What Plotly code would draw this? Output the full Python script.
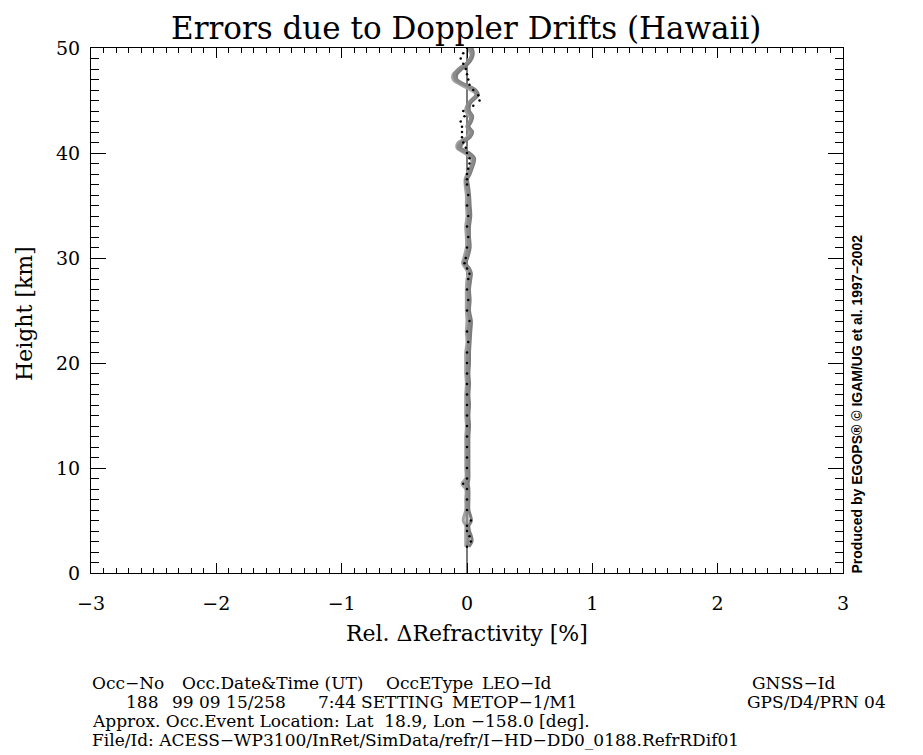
import plotly.graph_objects as go

# ---------------- data ----------------
H = [50.0, 49.5, 49.0, 48.5, 48.0, 47.5, 47.0, 46.5, 46.0, 45.5,
     45.0, 44.5, 44.0, 43.5, 43.0, 42.5, 42.0, 41.5, 41.0, 40.5,
     40.0, 39.5, 39.0, 38.5, 38.0, 37.5, 37.0, 36.0, 35.0, 34.0,
     33.0, 32.0, 31.0, 30.0, 29.5, 29.0, 28.5, 28.0, 27.0, 26.0,
     25.0, 24.0, 23.0, 22.0, 21.0, 20.0, 19.0, 18.0, 17.0, 16.0,
     15.0, 14.0, 13.0, 12.0, 11.0, 10.0, 9.0, 8.5, 8.0, 7.0,
     6.0, 5.0, 4.5, 4.0, 3.5, 3.0, 2.5]

G1 = [0.025, 0.04, 0.025, -0.01, -0.07, -0.10, -0.09, -0.02, 0.06, 0.07,
      0.03, 0.00, 0.01, 0.035, 0.02, 0.00, 0.035, 0.01, -0.05, -0.07,
      0.00, 0.05, 0.045, 0.03, 0.015, -0.01, -0.005, 0.01, 0.01, 0.015,
      0.005, 0.01, 0.01, -0.01, -0.025, 0.01, 0.025, 0.015, 0.01, 0.01,
      0.01, 0.02, 0.01, 0.015, 0.005, 0.005, 0.005, 0.005, 0.0, 0.005,
      0.0, 0.005, 0.0, 0.0, 0.0, 0.0, 0.0, -0.01, 0.0, 0.0,
      0.0, 0.0, 0.0, 0.005, 0.01, 0.01, 0.0]

G2 = [0.0, 0.03, 0.03, 0.0, -0.05, -0.11, -0.11, -0.05, 0.03, 0.08,
      0.05, 0.0, -0.01, 0.02, 0.03, 0.0, 0.02, 0.0, -0.07, -0.08,
      -0.02, 0.03, 0.04, 0.02, 0.0, -0.015, -0.015, -0.005, -0.005, 0.0,
      -0.01, -0.005, -0.005, -0.025, -0.035, -0.01, 0.01, 0.0, -0.005, -0.005,
      -0.005, 0.0, -0.005, 0.0, -0.01, -0.01, -0.01, -0.005, -0.01, -0.01,
      -0.01, -0.005, -0.01, -0.01, -0.01, -0.01, -0.01, -0.04, -0.01, -0.01,
      -0.01, -0.03, -0.01, -0.01, -0.01, -0.01, -0.01]

G3 = [0.04, 0.05, 0.04, 0.01, -0.04, -0.08, -0.08, -0.01, 0.07, 0.09,
      0.04, 0.02, 0.02, 0.045, 0.035, 0.015, 0.045, 0.025, -0.03, -0.05,
      0.02, 0.06, 0.055, 0.04, 0.025, 0.005, 0.01, 0.02, 0.025, 0.03,
      0.02, 0.02, 0.025, 0.005, -0.01, 0.02, 0.035, 0.03, 0.02, 0.025,
      0.02, 0.035, 0.03, 0.025, 0.02, 0.02, 0.015, 0.02, 0.015, 0.02,
      0.015, 0.02, 0.015, 0.015, 0.015, 0.015, 0.015, 0.01, 0.015, 0.015,
      0.015, 0.035, 0.015, 0.02, 0.035, 0.04, 0.015]

D = [0.0, -0.03, -0.05, -0.03, -0.01, 0.0, 0.01, 0.02, 0.05, 0.09,
     0.10, 0.05, -0.03, -0.02, -0.05, -0.04, -0.04, -0.04, -0.03, -0.01,
     0.0, 0.02, 0.02, 0.01, 0.0, 0.0, 0.0, 0.01, 0.0, 0.01,
     0.0, 0.01, 0.0, -0.01, -0.02, 0.0, 0.02, 0.01, 0.0, 0.01,
     0.0, 0.02, 0.0, 0.01, 0.0, 0.0, 0.0, 0.0, 0.0, 0.0,
     0.0, 0.0, 0.0, 0.0, 0.0, 0.0, 0.0, -0.03, 0.0, 0.0,
     0.0, 0.03, 0.0, 0.0, 0.02, 0.03, 0.0]

ZERO_X = [0.0, 0.0]
ZERO_H = [0.0, 50.0]

X_TICKS = [-3, -2, -1, 0, 1, 2, 3]
Y_TICKS = [0, 10, 20, 30, 40, 50]

TITLE = "Errors due to Doppler Drifts (Hawaii)"
XTITLE = "Rel. \u0394Refractivity [%]"
YTITLE = "Height [km]"
CREDIT = "Produced by EGOPS\u00ae \u00a9 IGAM/UG et al. 1997\u22122002"

FOOT1 = [("Occ\u2212No", 90), ("Occ.Date&Time (UT)", 180), ("OccEType", 384),
         ("LEO\u2212Id", 480), ("GNSS\u2212Id", 750)]
FOOT2 = [("188", 124), ("99 09 15/258", 170), ("7:44", 316), ("SETTING", 359),
         ("METOP\u22121/M1", 450), ("GPS/D4/PRN 04", 745)]
FOOT3 = "Approx. Occ.Event Location: Lat  18.9, Lon \u2212158.0 [deg]."
FOOT4 = "File/Id: ACESS\u2212WP3100/InRet/SimData/refr/I\u2212HD\u2212DD0_0188.RefrRDif01"

# ---------------- layout geometry ----------------
W, HT = 923, 755
L, R, T, B = 91, 843, 48, 573

def px(x):
    return (x - L) / (R - L)

def py(y):
    return (B - y) / (B - T)

SERIF = "DejaVu Serif"
FOOT_SIZE = 17

fig = go.Figure()
fig.add_trace(go.Scatter(x=ZERO_X, y=ZERO_H, mode="lines",
                         line=dict(color="#222222", width=1.2), showlegend=False))
for xs, col in [(G2, "#a3a3a3"), (G3, "#7c7c7c"), (G1, "#8a8a8a")]:
    fig.add_trace(go.Scatter(x=xs, y=H, mode="lines", line_shape="spline",
                             line=dict(color=col, width=3), showlegend=False))
fig.add_trace(go.Scatter(x=D, y=H, mode="markers",
                         marker=dict(color="black", size=2.5), showlegend=False))

axis_common = dict(showgrid=False, zeroline=False, showline=True, linecolor="black",
                   linewidth=1, mirror="ticks", ticks="inside", tickcolor="black",
                   tickwidth=1, tickfont=dict(family=SERIF, size=19, color="black"))

fig.update_xaxes(range=[-3, 3], tickvals=X_TICKS,
                 ticktext=[("\u2212" + str(-v)) if v < 0 else str(v) for v in X_TICKS],
                 ticklen=10, ticklabelstandoff=13,
                 minor=dict(dtick=0.1, ticklen=5, ticks="inside", tickcolor="black", showgrid=False),
                 **axis_common)
fig.update_yaxes(range=[0, 50], tickvals=Y_TICKS, ticklen=15, ticklabelstandoff=6,
                 minor=dict(dtick=1, ticklen=8, ticks="inside", tickcolor="black", showgrid=False),
                 **axis_common)

ann = []
ann.append(dict(text=TITLE, x=px(466), y=py(28), xref="paper", yref="paper",
                showarrow=False, xanchor="center", yanchor="middle",
                font=dict(family=SERIF, size=31, color="black")))
ann.append(dict(text=XTITLE, x=px(467), y=py(633), xref="paper", yref="paper",
                showarrow=False, xanchor="center", yanchor="middle",
                font=dict(family=SERIF, size=22, color="black")))
ann.append(dict(text=YTITLE, x=px(25), y=py(314), xref="paper", yref="paper",
                showarrow=False, xanchor="center", yanchor="middle", textangle=-90,
                font=dict(family=SERIF, size=22, color="black")))
ann.append(dict(text="<b>" + CREDIT + "</b>", x=px(856), y=py(576), xref="paper", yref="paper",
                showarrow=False, xanchor="center", yanchor="bottom", textangle=-90,
                font=dict(family="Liberation Sans", size=14, color="black")))
for txt, x0 in FOOT1:
    ann.append(dict(text=txt, x=px(x0), y=py(683), xref="paper", yref="paper",
                    showarrow=False, xanchor="left", yanchor="middle",
                    font=dict(family=SERIF, size=FOOT_SIZE, color="black")))
for txt, x0 in FOOT2:
    ann.append(dict(text=txt, x=px(x0), y=py(702), xref="paper", yref="paper",
                    showarrow=False, xanchor="left", yanchor="middle",
                    font=dict(family=SERIF, size=FOOT_SIZE, color="black")))
for txt, yy in [(FOOT3, 721), (FOOT4, 740)]:
    ann.append(dict(text=txt, x=px(90), y=py(yy), xref="paper", yref="paper",
                    showarrow=False, xanchor="left", yanchor="middle",
                    font=dict(family=SERIF, size=FOOT_SIZE, color="black")))

fig.update_layout(width=W, height=HT, margin=dict(l=L, r=W - R, t=T, b=HT - B),
                  paper_bgcolor="white", plot_bgcolor="white", annotations=ann,
                  showlegend=False)

fig.write_html("out.html")
